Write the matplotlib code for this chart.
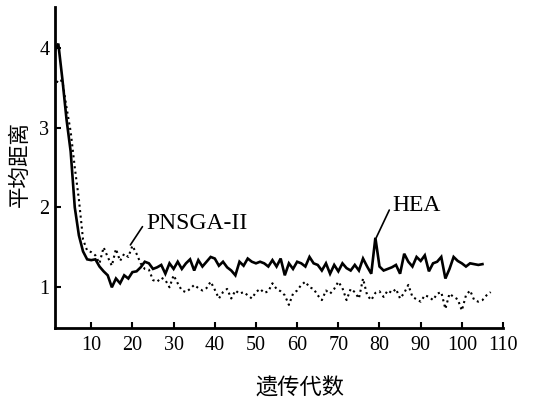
import matplotlib.pyplot as plt
import numpy as np

plt.rcParams['font.family'] = ['Liberation Serif', 'Noto Sans CJK SC', 'DejaVu Sans']

# 遗传代数 (generation)
gen_hea = np.arange(1, 106)
hea = [3.95, 4.05, 3.6, 3.1, 2.7, 2.0, 1.65, 1.45, 1.35, 1.34,
       1.35, 1.26, 1.2, 1.15, 1.0, 1.11, 1.05, 1.15, 1.11, 1.19,
       1.2, 1.25, 1.32, 1.3, 1.23, 1.25, 1.28, 1.17, 1.3, 1.23,
       1.32, 1.23, 1.3, 1.35, 1.21, 1.34, 1.26, 1.32, 1.38, 1.36,
       1.27, 1.32, 1.25, 1.21, 1.15, 1.32, 1.27, 1.36, 1.32, 1.3,
       1.32, 1.3, 1.26, 1.34, 1.26, 1.36, 1.15, 1.3, 1.23, 1.32,
       1.3, 1.26, 1.38, 1.3, 1.28, 1.21, 1.3, 1.17, 1.28, 1.2,
       1.3, 1.24, 1.21, 1.28, 1.21, 1.36, 1.26, 1.17, 1.62, 1.26,
       1.21, 1.23, 1.25, 1.28, 1.17, 1.42, 1.32, 1.26, 1.38, 1.33,
       1.4, 1.2, 1.3, 1.32, 1.38, 1.11, 1.23, 1.38, 1.33, 1.3,
       1.26, 1.3, 1.29, 1.28, 1.29]

gen_pnsga = np.arange(1, 108)
pnsga = [3.5, 3.6, 3.58, 3.25, 2.95, 2.5, 2.1, 1.6, 1.46, 1.44,
         1.4, 1.3, 1.5, 1.38, 1.27, 1.48, 1.33, 1.42, 1.38, 1.52,
         1.42, 1.3, 1.23, 1.22, 1.09, 1.07, 1.12, 1.09, 1.0, 1.15,
         1.05, 0.96, 0.94, 0.98, 1.03, 0.99, 0.96, 0.99, 1.07, 0.97,
         0.86, 0.94, 0.98, 0.86, 0.96, 0.92, 0.94, 0.9, 0.86, 0.94,
         0.98, 0.93, 0.95, 1.05, 0.98, 0.95, 0.9, 0.78, 0.92, 0.96,
         1.03, 1.07, 1.0, 0.98, 0.9, 0.84, 0.96, 0.92, 0.98, 1.07,
         0.99, 0.84, 0.98, 0.94, 0.86, 1.11, 0.9, 0.84, 0.93, 0.95,
         0.88, 0.96, 0.93, 0.98, 0.86, 0.93, 1.03, 0.88, 0.85, 0.82,
         0.9, 0.88, 0.84, 0.92, 0.94, 0.73, 0.92, 0.88, 0.85, 0.71,
         0.9, 0.96, 0.84, 0.82, 0.84, 0.9, 0.94]

xticks = [10, 20, 30, 40, 50, 60, 70, 80, 90, 100, 110]
yticks = [1, 2, 3, 4]

fig = plt.figure(figsize=(5.42, 4.04), dpi=100)
ax = fig.add_axes([0.1015, 0.188, 0.8266, 0.795])

ax.plot(gen_hea, hea, color='black', lw=1.9, solid_joinstyle='miter')
ax.plot(gen_pnsga, pnsga, color='black', lw=1.5, ls=':')

ax.set_xlim(1.2, 110)
ax.set_ylim(0.49, 4.51)
ax.set_xticks(xticks)
ax.set_yticks(yticks)
ax.tick_params(direction='in', length=4, width=1.5, labelsize=14.5, pad=6)
ax.tick_params(axis='y', pad=4)

for s in ['top', 'right']:
    ax.spines[s].set_visible(False)
for s in ['left', 'bottom']:
    ax.spines[s].set_linewidth(2)

ax.set_xlabel('遗传代数', fontsize=16, family=['Noto Sans CJK SC', 'DejaVu Sans'])
ax.xaxis.set_label_coords(0.547, -0.15)
ax.set_ylabel('平均距离', fontsize=15.5, family=['Noto Sans CJK SC', 'DejaVu Sans'])
ax.yaxis.set_label_coords(-0.055, 0.51)

ax.annotate('PNSGA-II', xy=(19.5, 1.53), xytext=(23.3, 1.8),
            fontsize=17, ha='left', va='center',
            arrowprops=dict(arrowstyle='-', color='black', lw=1.2,
                            relpos=(0, 0.6), shrinkA=1, shrinkB=0))
ax.annotate('HEA', xy=(79.2, 1.62), xytext=(83.2, 2.03),
            fontsize=17, ha='left', va='center',
            arrowprops=dict(arrowstyle='-', color='black', lw=1.2,
                            relpos=(0, 0.6), shrinkA=1, shrinkB=0))

fig.savefig('out.png', dpi=100)
